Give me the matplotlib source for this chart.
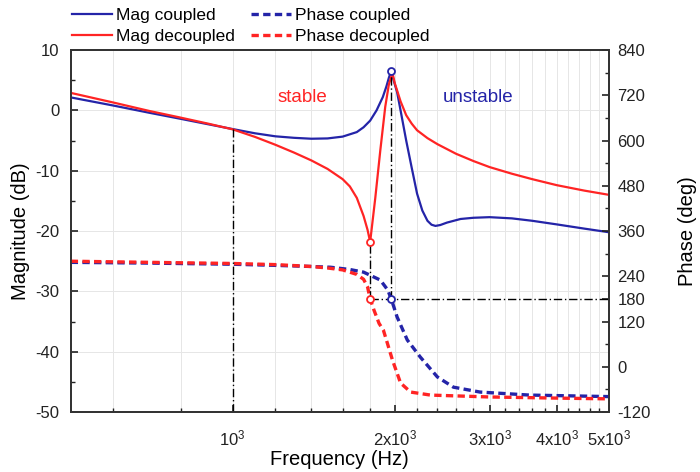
import numpy as np
import matplotlib
matplotlib.use("Agg")
import matplotlib.pyplot as plt
from matplotlib.ticker import FixedLocator, NullFormatter, MultipleLocator
from matplotlib.lines import Line2D

plt.rcParams['font.family'] = ['Liberation Sans', 'DejaVu Sans']
plt.rcParams['mathtext.fontset'] = 'custom'
plt.rcParams['mathtext.rm'] = 'Liberation Sans'
plt.rcParams['axes.unicode_minus'] = False

BLUE = '#2424a8'
RED = '#ff2424'
PURPLE = '#9a2f9e'

# magnitude, coupled (Hz, dB)
f_mag_c = [500, 600, 700, 800, 900, 1000, 1100, 1200, 1300, 1400, 1500, 1600,
           1700, 1750, 1800, 1850, 1900, 1930, 1950, 1970, 1990, 2020, 2050,
           2100, 2150, 2200, 2250, 2300, 2340, 2380, 2430, 2500, 2650, 2800, 3000,
           3300, 3600, 4000, 4500, 5000]
mag_c = [2.15, 0.8, -0.4, -1.4, -2.3, -3.1, -3.8, -4.3, -4.55, -4.7, -4.65, -4.35,
         -3.6, -2.8, -1.7, 0.0, 2.2, 4.0, 5.4, 6.6, 5.0, 3.0, 0.0,
         -5.0, -9.5, -13.8, -16.6, -18.3, -18.95, -19.15, -19.0, -18.6, -18.0, -17.8, -17.7,
         -17.9, -18.3, -18.9, -19.6, -20.2]

# magnitude, decoupled (Hz, dB)
f_mag_d = [500, 600, 700, 800, 900, 1000, 1100, 1200, 1300, 1400, 1500, 1600,
           1650, 1700, 1750, 1780, 1800, 1840, 1880, 1920, 1950, 1980, 2000,
           2050, 2100, 2150, 2200, 2300, 2400, 2600, 2800, 3000, 3300, 3600,
           4000, 4500, 5000]
mag_d = [2.9, 1.3, -0.1, -1.2, -2.2, -3.15, -4.4, -5.7, -7.0, -8.3, -9.7, -11.4,
         -12.6, -14.5, -17.5, -19.8, -21.8, -14.5, -6.6, 0.6, 4.3, 6.2, 4.5,
         1.5, -0.8, -2.2, -3.3, -4.6, -5.6, -7.2, -8.4, -9.4, -10.5, -11.4,
         -12.4, -13.3, -14.0]

# phase, coupled (Hz, deg)
f_ph_c = [500, 700, 1000, 1200, 1400, 1520, 1650, 1750, 1880, 1940, 1970, 2020,
          2110, 2230, 2400, 2570, 2880, 3560, 5000]
ph_c = [277, 275, 272, 269, 266, 264, 258, 251, 230, 204, 180, 132,
        71, 26, -27, -54, -67, -75, -79]

# phase, decoupled (Hz, deg)
f_ph_d = [500, 700, 1000, 1200, 1400, 1500, 1600, 1700, 1750, 1780, 1800, 1830,
          1870, 1905, 1940, 1980, 2050, 2140, 2330, 3000, 4000, 5000]
ph_d = [280, 277, 274, 271, 266, 262, 257, 245, 232, 212, 180, 150,
        115, 97, 60, 18, -43, -67, -75, -80, -83, -85]

# marked points
f_dip, mag_dip = 1800, -21.8
f_peak, mag_peak = 1970, 6.6
f_cross, mag_cross = 1000, -3.1
ph_mark = 180

xticks = [1000, 2000, 3000, 4000, 5000]
xticklabels = [r'$\mathregular{10^3}$', r'$\mathregular{2x10^3}$', r'$\mathregular{3x10^3}$',
               r'$\mathregular{4x10^3}$', r'$\mathregular{5x10^3}$']
xminor = [600, 800, 1200, 1400, 1600, 1800] + list(range(2200, 5000, 200))
ph_ticks = [-120, 0, 120, 180, 240, 360, 480, 600, 720, 840]

fig, ax = plt.subplots(figsize=(7, 4.72), dpi=100)
fig.subplots_adjust(left=0.101, right=0.870, top=0.894, bottom=0.127)
ax2 = ax.twinx()

ax.set_xscale('log')
ax.set_xlim(500, 5000)
ax.set_ylim(-50, 10)
ax2.set_ylim(-120, 840)

# grid
for f in xticks + xminor:
    ax.axvline(f, color='#e6e6e6', lw=0.7, zorder=0)
for v in range(-40, 10, 10):
    ax.axhline(v, color='#e6e6e6', lw=0.7, zorder=0)

ax.plot(f_mag_c, mag_c, color=BLUE, lw=1.6, zorder=3)
ax.plot(f_mag_d, mag_d, color=RED, lw=1.6, zorder=3)

dash = (0, (2.2, 1.3))
ax2.plot(f_ph_c, ph_c, color=BLUE, lw=2.4, linestyle=dash)
ax2.plot(f_ph_d, ph_d, color=RED, lw=2.4, linestyle=dash)


def db_to_deg(v):
    # map a magnitude value onto the phase axis scale
    return -120 + (v + 50) / 60 * 960


dd = (0, (6, 2, 1, 2))
ax2.plot([f_cross, f_cross], [-120, db_to_deg(mag_cross)], color='k', lw=1, linestyle=dd)
ax2.plot([f_dip, f_dip], [ph_mark, db_to_deg(mag_dip)], color='k', lw=1, linestyle=dd)
ax2.plot([f_peak, f_peak], [ph_mark, db_to_deg(mag_peak)], color='k', lw=1, linestyle=dd)
ax2.plot([f_dip, 5000], [ph_mark, ph_mark], color='k', lw=1, linestyle=dd)

mk = dict(marker='o', ms=5, mfc='white', mew=1.3, linestyle='none', zorder=5)
ax2.plot([f_dip, f_dip], [db_to_deg(mag_dip), ph_mark], mec=RED, **mk)
ax2.plot([f_peak, f_peak], [db_to_deg(mag_peak), ph_mark], mec=BLUE, **mk)

ax.text(1348, 2.2, 'stable', color=RED, fontsize=13.5, ha='center', va='center')
ax.text(2855, 2.2, 'unstable', color=BLUE, fontsize=13.5, ha='center', va='center')

# ticks
ax.xaxis.set_major_locator(FixedLocator(xticks))
ax.set_xticklabels(xticklabels)
ax.xaxis.set_minor_locator(FixedLocator(xminor))
ax.xaxis.set_minor_formatter(NullFormatter())
ax.yaxis.set_major_locator(MultipleLocator(10))
ax.yaxis.set_minor_locator(MultipleLocator(5))
ax2.yaxis.set_major_locator(FixedLocator(ph_ticks))
ax2.yaxis.set_minor_locator(MultipleLocator(60))
ax2.set_yticklabels([str(t) for t in ph_ticks])
for lbl, t in zip(ax2.get_yticklabels(), ph_ticks):
    if t == 180:
        lbl.set_color(PURPLE)

for a in (ax, ax2):
    a.tick_params(which='both', direction='in', labelsize=12, colors='#222222')
    a.tick_params(which='major', length=5, width=1.2)
    a.tick_params(which='minor', length=3, width=1)
    for s in a.spines.values():
        s.set_color('#333333')
        s.set_linewidth(1.3)
ax.tick_params(axis='y', which='both', right=False, pad=8)
ax2.tick_params(axis='y', pad=6)
ax.tick_params(axis='x', which='both', top=False, pad=12)

ax.set_xlabel('Frequency (Hz)', fontsize=14.5, labelpad=1)
ax.set_ylabel('Magnitude (dB)', fontsize=14.5, labelpad=4)
ax2.set_ylabel('Phase (deg)', fontsize=14.5, labelpad=20)

handles = [Line2D([], [], color=BLUE, lw=1.6),
           Line2D([], [], color=RED, lw=1.6),
           Line2D([], [], color=BLUE, lw=2.4, linestyle=dash),
           Line2D([], [], color=RED, lw=2.4, linestyle=dash)]
labels = ['Mag coupled', 'Mag decoupled', 'Phase coupled', 'Phase decoupled']
fig.legend(handles, labels, ncol=2, loc='upper left', bbox_to_anchor=(0.093, 0.998),
           frameon=False, fontsize=12.5, handlelength=2.3, handletextpad=0.25,
           columnspacing=0.9, labelspacing=0.35, borderaxespad=0)

fig.savefig('out.png', dpi=100)
